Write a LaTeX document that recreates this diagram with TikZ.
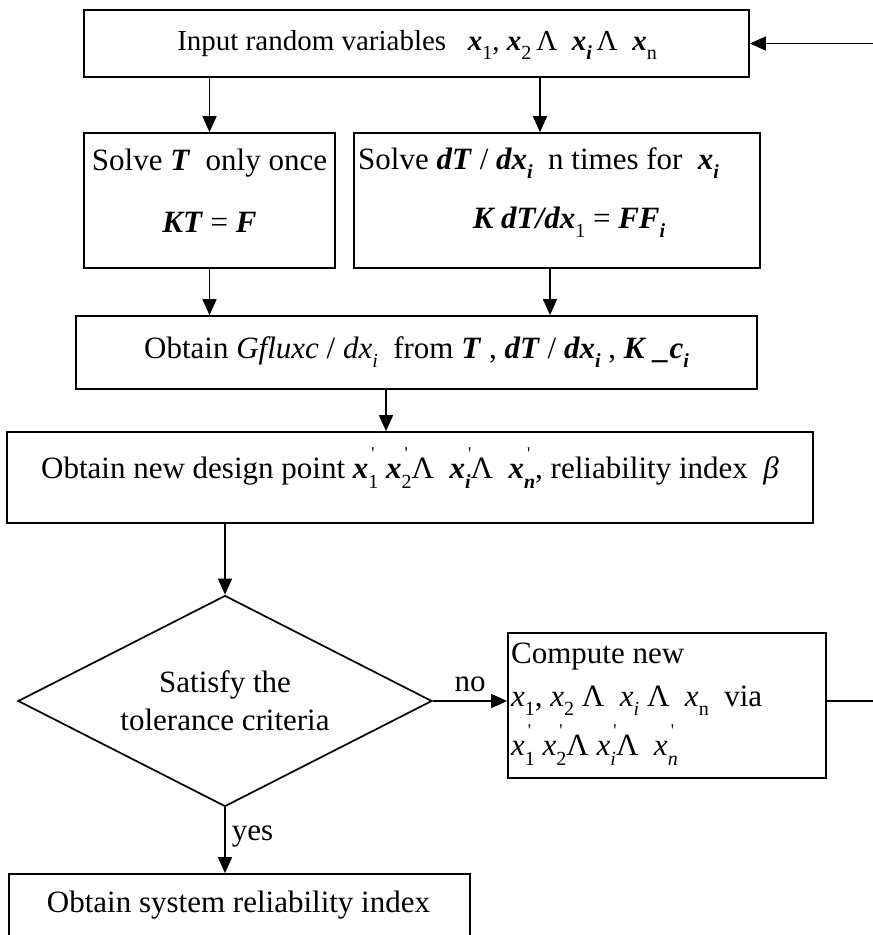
\documentclass[tikz,border=0pt]{standalone}
\usepackage{fontspec}
\setmainfont{Liberation Serif}
\usetikzlibrary{arrows.meta,shapes.geometric}
\newcommand\bx[1]{\textbf{\textit{#1}}}
\newcommand\lo[1]{\raisebox{-0.3em}{\fontsize{20}{20}\selectfont #1}}
\newcommand\ps[1]{\rlap{\raisebox{0.62em}{\fontsize{18}{18}\selectfont\,\textquotesingle}}\lo{#1}}
\tikzset{
  box/.style={draw, line width=1.7pt, inner sep=0pt},
  txt/.style={inner sep=0pt, font=\fontsize{31}{38}\selectfont},
  arr/.style={line width=1.5pt, -{Triangle[length=16pt,width=14pt]}},
  ln/.style={line width=1.5pt}
}
\begin{document}
\begin{tikzpicture}[x=1pt,y=-1pt]
\useasboundingbox (0,0) rectangle (873,935);
% boxes
\node[box, minimum width=665pt, minimum height=67pt] (inp) at (416.5,43.5) {};
\node[box, minimum width=251pt, minimum height=135pt] (solT) at (209.5,200.5) {};
\node[box, minimum width=406pt, minimum height=135pt] (solD) at (557,200.5) {};
\node[box, minimum width=681pt, minimum height=73pt] (gfl) at (416.5,352.5) {};
\node[box, minimum width=806pt, minimum height=91pt] (des) at (410,477.5) {};
\node[box, diamond, minimum width=414pt, minimum height=211pt] (dia) at (225,701) {};
\node[box, minimum width=318pt, minimum height=145pt] (comp) at (667,705.5) {};
\node[box, minimum width=461pt, minimum height=90pt] (fin) at (239.5,919) {};
% texts
\node[txt, font=\fontsize{29}{36}\selectfont] (t1) at (417,45) {Input random variables \ \ \bx{x}\lo{1}, \bx{x}\lo{2}\,Λ \ \bx{x}\lo{\bx{i}}\,Λ \ \bx{x}\lo{n}};
\node[txt] (t2) at (209.5,163) {Solve \bx{T} \ only once};
\node[txt] (t3) at (209.5,222) {\bx{KT} = \bx{F}};
\node[txt, anchor=west] (t4) at (358,163) {Solve \bx{dT} / \bx{dx}\lo{\bx{i}} \ n times for \ \bx{x}\lo{\bx{i}}};
\node[txt] (t5) at (569,222) {\bx{K dT/dx}\lo{1} = \bx{FF}\lo{\bx{i}}};
\node[txt] (t6) at (416.5,352) {Obtain \textit{Gfluxc} / \textit{dx}\lo{\textit{i}} \ from \bx{T} , \bx{dT} / \bx{dx}\lo{\bx{i}} , \bx{K} \bx{\_c}\lo{\bx{i}}};
\node[txt] (t7) at (410,468) {Obtain new design point \bx{x}\ps{1} \bx{x}\ps{2}Λ \ \bx{x}\ps{\bx{i}}Λ \ \bx{x}\ps{\bx{n}}, reliability index \ \textit{β}};
\node[txt, align=center] (t8) at (225,701) {Satisfy the\\tolerance criteria};
\node[txt, anchor=west] (t9) at (511,657) {Compute new};
\node[txt, anchor=west] (t10) at (511,701) {\textit{x}\lo{1}, \textit{x}\lo{2} Λ \ \textit{x}\lo{\textit{i}} Λ \ \textit{x}\lo{n} \ via};
\node[txt, anchor=west] (t11) at (511,745) {\textit{x}\ps{1} \textit{x}\ps{2}Λ \textit{x}\ps{\textit{i}}Λ \ \textit{x}\ps{\textit{n}}};
\node[txt] (t12) at (238.5,905) {Obtain system reliability index};
% connectors
\draw[arr] (inp.south -| solT) -- (solT.north);
\draw[arr] (inp.south -| 540,0) -- (540,0 |- solD.north);
\draw[arr] (solT.south) -- (solT.south |- gfl.north);
\draw[arr] (solD.south -| 550,0) -- (550,0 |- gfl.north);
\draw[arr] (gfl.south -| 386,0) -- (386,0 |- des.north);
\draw[arr] (des.south -| dia) -- (dia.north);
\draw[arr] (dia.east) -- node[txt, above=8pt] (no) {no} (comp.west |- dia.east);
\draw[arr] (dia.south) -- node[txt, right=6pt, pos=0.45] (yes) {yes} (dia.south |- fin.north);
\coordinate (far) at (880,0);
\draw[ln] (comp.east |- dia.east) -- (far |- dia.east) -- (far |- inp.east);
\draw[arr] (far |- inp.east) -- (inp.east);
\end{tikzpicture}
\end{document}
